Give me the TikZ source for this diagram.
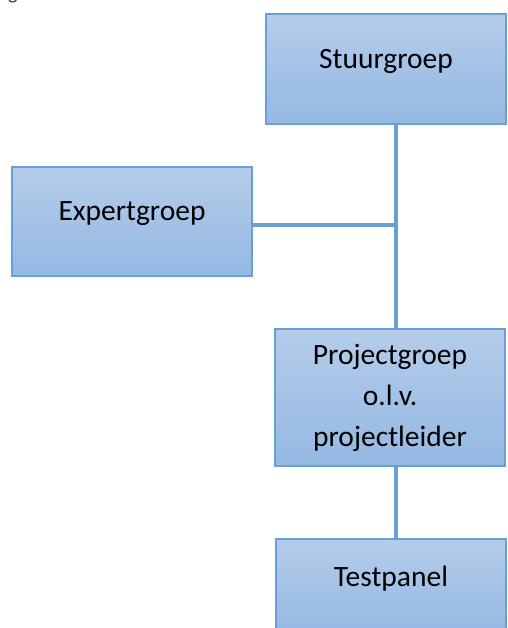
\documentclass[tikz,border=0pt]{standalone}
\usepackage{fontspec}
\setmainfont{Carlito}
\definecolor{boxtop}{RGB}{180,204,234}
\definecolor{boxbot}{RGB}{149,184,227}
\definecolor{boxline}{RGB}{104,160,214}
\definecolor{headblue}{RGB}{31,56,100}
\begin{document}
\begin{tikzpicture}[
    x=1pt, y=-1pt,
    unit/.style={draw=boxline, line width=1.5pt, top color=boxtop, bottom color=boxbot,
        minimum width=240pt, inner sep=0pt, font=\fontsize{29.5}{41}\selectfont, align=center},
    single/.style={unit, text depth=20pt},
    link/.style={draw=boxline, line width=4pt}
]
\useasboundingbox (0,0) rectangle (507,628);

% --- heading cut off at the top ---
\node[anchor=base west, inner sep=0pt, text=headblue, font=\fontsize{20}{24}\selectfont]
    (head) at (8,0) {g};

% --- boxes ---
\node[single, minimum height=110pt] (stuur) at (386,69) {Stuurgroep};
\node[single, minimum height=109pt] (expert) at (132,221.5) {Expertgroep};
\node[unit, minimum width=230pt, minimum height=137pt] (project) at (390,397.5)
    {Projectgroep\\o.l.v.\\projectleider};
\node[single, minimum width=230pt, minimum height=95pt] (test) at (391,586.5) {Testpanel};

% --- connectors ---
\coordinate (junc) at (396,225);
\draw[link] (stuur.south -| junc) -- (project.north -| junc);
\draw[link] (expert.east |- junc) -- (junc);
\draw[link] (project.south -| junc) -- (test.north -| junc);

\end{tikzpicture}
\end{document}
